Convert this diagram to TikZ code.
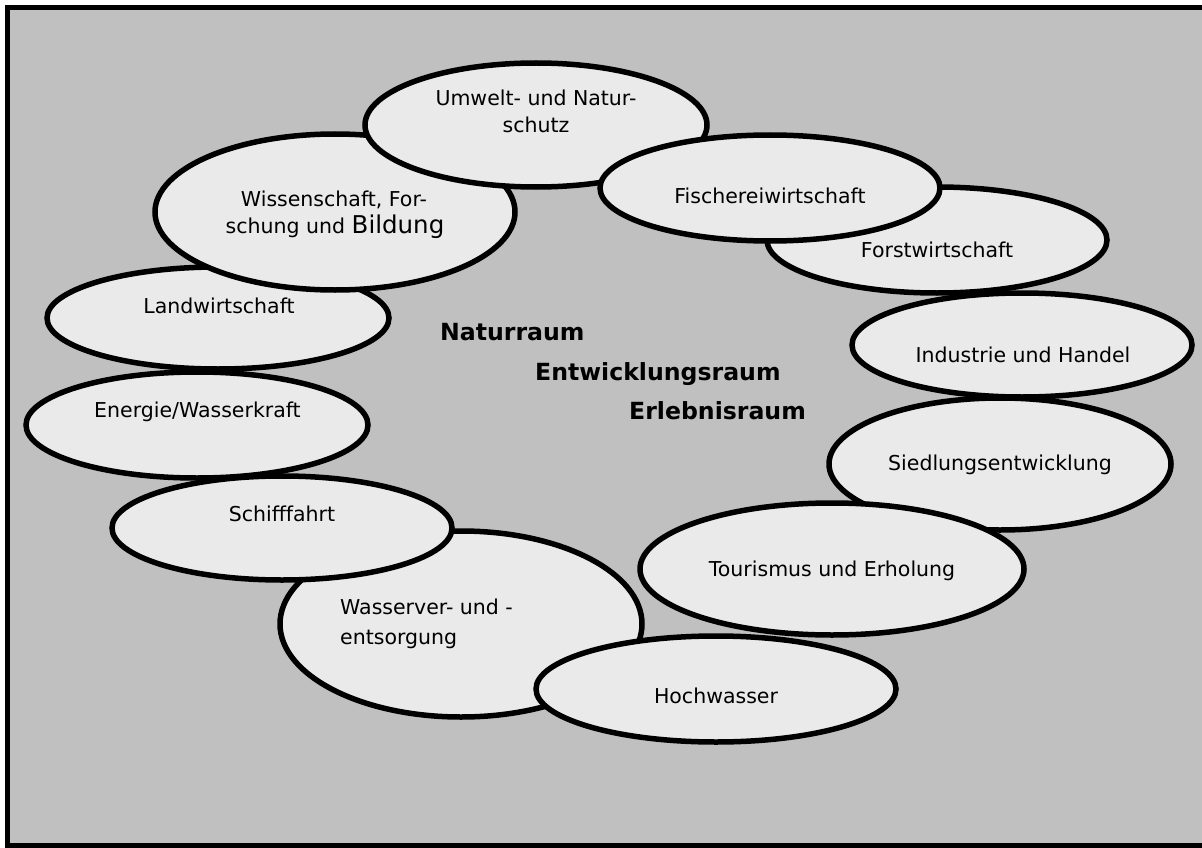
\documentclass[tikz,border=0pt]{standalone}
\usepackage{fontspec}
\setmainfont{DejaVu Sans}
\usetikzlibrary{shapes.geometric}
\definecolor{bggray}{HTML}{C0C0C0}
\definecolor{ellfill}{HTML}{EAEAEA}
\tikzset{
  blob/.style={ellipse, draw=black, line width=5.5pt, fill=ellfill, inner sep=0pt, outer sep=0pt},
  lbl/.style={anchor=base, inner sep=0pt, font=\fontsize{20.5}{24}\selectfont},
  lbll/.style={anchor=base west, inner sep=0pt, font=\fontsize{20.5}{24}\selectfont},
  bold/.style={anchor=base west, inner sep=0pt, font=\fontsize{23.6}{28}\selectfont\bfseries}
}
\begin{document}
\begin{tikzpicture}[x=1pt, y=-1pt]
\useasboundingbox (0,0) rectangle (1202,848);
\clip (0,0) rectangle (1202,848);
\fill[white] (0,0) rectangle (1202,848);
\fill[bggray] (10,10) rectangle (1210,843);
\draw[line width=5pt] (1215,7.5) -- (7.5,7.5) -- (7.5,845.5) -- (1215,845.5);

% ellipses (drawing order gives the overlaps)
\node[blob, minimum width=342pt, minimum height=102pt] (land) at (218,318) {};
\node[blob, minimum width=360pt, minimum height=156pt] (wiss) at (335,212) {};
\node[blob, minimum width=342pt, minimum height=124pt] (umwelt) at (536,125) {};
\node[blob, minimum width=340pt, minimum height=106pt] (forst) at (937,240) {};
\node[blob, minimum width=340pt, minimum height=106pt] (fisch) at (770,188) {};
\node[blob, minimum width=340pt, minimum height=104pt] (indus) at (1022,345) {};
\node[blob, minimum width=342pt, minimum height=132pt] (sied) at (1000,464) {};
\node[blob, minimum width=384pt, minimum height=132pt] (tour) at (832,569) {};
\node[blob, minimum width=362pt, minimum height=186pt] (wasser) at (461,624) {};
\node[blob, minimum width=360pt, minimum height=106pt] (hoch) at (716,689) {};
\node[blob, minimum width=340pt, minimum height=104pt] (schiff) at (282,528) {};
\node[blob, minimum width=342pt, minimum height=106pt] (energie) at (197,425) {};

% labels
\node[lbl] (umwelt-a) at (536,106) {Umwelt- und Natur-};
\node[lbl] (umwelt-b) at (536,133) {schutz};
\node[lbl] (wiss-a) at (334,206) {Wissenschaft, For-};
\node[lbl] (wiss-b) at (335,233) {schung und {\fontsize{24.5}{28}\selectfont Bildung}};
\node[lbl] (fisch-t) at (770,203) {Fischereiwirtschaft};
\node[lbl] (forst-t) at (937,257) {Forstwirtschaft};
\node[lbl] (indus-t) at (1023,362) {Industrie und Handel};
\node[lbl] (sied-t) at (1000,470) {Siedlungsentwicklung};
\node[lbl] (tour-t) at (832,576) {Tourismus und Erholung};
\node[lbl] (hoch-t) at (716,703) {Hochwasser};
\node[lbll] (wasser-a) at (340,614) {Wasserver- und -};
\node[lbll] (wasser-b) at (340,644) {entsorgung};
\node[lbl] (schiff-t) at (282,521) {Schifffahrt};
\node[lbl] (energie-t) at (197.5,417) {Energie/Wasserkraft};
\node[lbl] (land-t) at (219,313) {Landwirtschaft};

\node[bold] (natur) at (440,340) {Naturraum};
\node[bold] (entw) at (535,380) {Entwicklungsraum};
\node[bold] (erleb) at (629,419) {Erlebnisraum};
\end{tikzpicture}
\end{document}
